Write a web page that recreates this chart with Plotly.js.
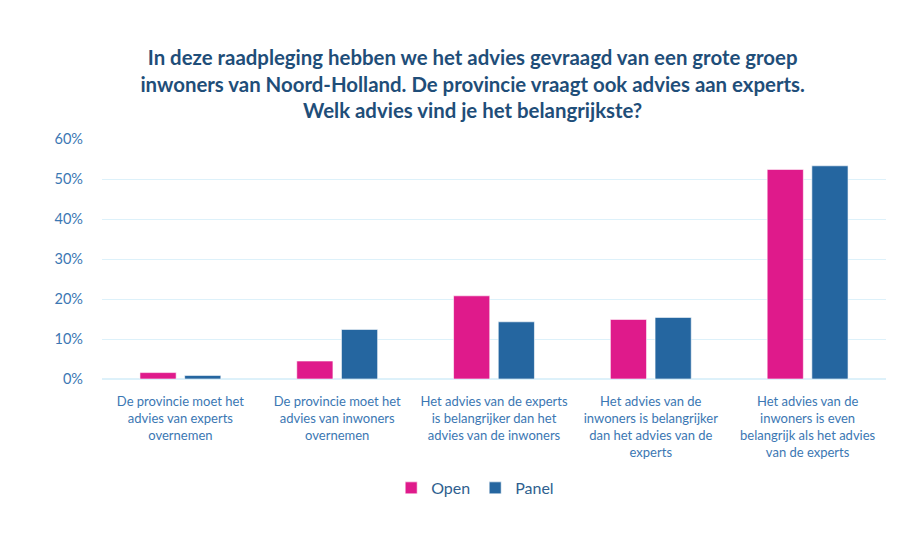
<!DOCTYPE html>
<html>
<head>
<meta charset="utf-8">
<script src="https://cdn.plot.ly/plotly-3.0.1.min.js"></script>
<style>html,body{margin:0;padding:0;background:#fff;}#chart{width:916px;height:533px;}</style>
</head>
<body>
<div id="chart"></div>
<script>
const categories = [
  "De provincie moet het<br>advies van experts<br>overnemen",
  "De provincie moet het<br>advies van inwoners<br>overnemen",
  "Het advies van de experts<br>is belangrijker dan het<br>advies van de inwoners",
  "Het advies van de<br>inwoners is belangrijker<br>dan het advies van de<br>experts",
  "Het advies van de<br>inwoners is even<br>belangrijk als het advies<br>van de experts"
];
const openValues = [0.016, 0.045, 0.208, 0.149, 0.524];
const panelValues = [0.009, 0.124, 0.143, 0.154, 0.533];
const yTickVals = [0, 0.1, 0.2, 0.3, 0.4, 0.5, 0.6];
const yTickText = ["0%", "10%", "20%", "30%", "40%", "50%", "60%"];

const traces = [
  {type: 'bar', name: 'Open', x: categories, y: openValues,
   marker: {color: '#DF1A8B', line: {color: 'rgba(255,255,255,0.6)', width: 1}}},
  {type: 'bar', name: 'Panel', x: categories, y: panelValues,
   marker: {color: '#2566A0', line: {color: 'rgba(255,255,255,0.6)', width: 1}}}
];

const layout = {
  width: 916, height: 533,
  paper_bgcolor: '#fff', plot_bgcolor: '#fff',
  font: {family: 'Lato, sans-serif', color: '#3B77B3'},
  margin: {l: 102, r: 30, t: 139, b: 154},
  title: {
    text: 'In deze raadpleging hebben we het advies gevraagd van een grote groep<br>inwoners van Noord-Holland. De provincie vraagt ook advies aan experts.<br>Welk advies vind je het belangrijkste?',
    font: {family: 'Lato, sans-serif', size: 20.4, color: '#1F4E79', weight: 'bold'},
    xref: 'container', x: 0.516, xanchor: 'center',
    yref: 'container', y: 1 - 65/533, yanchor: 'top'
  },
  barmode: 'group', bargap: 0.43, bargroupgap: 0.19,
  xaxis: {
    tickfont: {size: 13, color: '#3B77B3'},
    showgrid: false, zeroline: false, showline: false,
    ticks: '', ticklabelstandoff: 13
  },
  yaxis: {
    range: [0, 0.6], tickvals: yTickVals, ticktext: yTickText,
    tickfont: {size: 14.5, color: '#3B77B3'},
    showgrid: true, gridcolor: '#DDF1FA', gridwidth: 1,
    zeroline: true, zerolinecolor: '#DDF1FA', zerolinewidth: 2,
    showline: false, ticks: '', ticklabelstandoff: 18
  },
  showlegend: true,
  legend: {
    orientation: 'h', x: 0.476, xanchor: 'center', y: -0.454, yanchor: 'middle',
    font: {size: 16, color: '#2F5F8F'}, itemwidth: 30, traceorder: 'normal'
  }
};

Plotly.newPlot('chart', traces, layout, {displayModeBar: false, staticPlot: true});
</script>
</body>
</html>
